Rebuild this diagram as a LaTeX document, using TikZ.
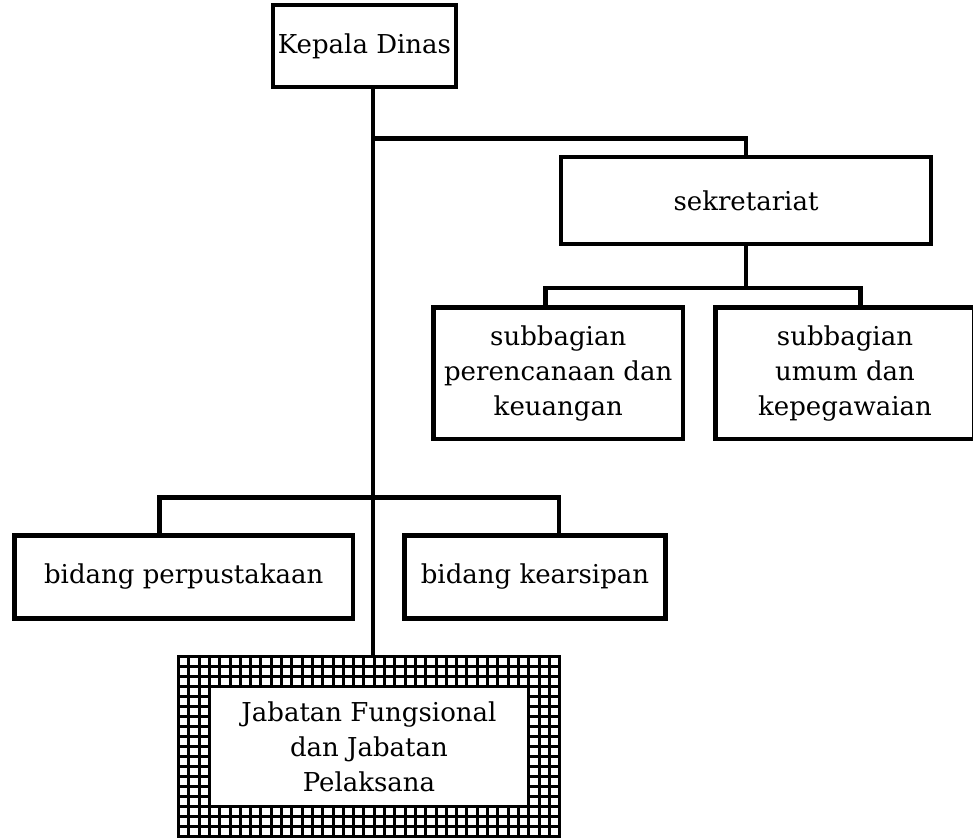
\documentclass[tikz,border=0pt]{standalone}
\usepackage{fontspec}
\setmainfont{DejaVu Serif}
\begin{document}
\begin{tikzpicture}
	[
		x                       = 1pt,
		y                       = -1pt,
		every node/.style       = {font=\fontsize{26}{35}\selectfont, align=center},
		unitbox/.style          = {draw, line width=4.8pt, inner sep=0pt},
		orgline/.style          = {draw, line width=4.8pt}
	]
	\clip (0,0) rectangle (973,837);
	\fill[white] (0,0) rectangle (973,837);
	% grid frame round the functional unit
	\foreach \i in {0,...,37}
		\fill (177+\i*10.3,655) rectangle ++(3,183);
	\foreach \j in {0,...,18}
		\fill (177,655+\j*10) rectangle ++(384.1,3);
	\fill[white] (210.9,688) rectangle (527.2,805);
	\node[unitbox, minimum width=183pt, minimum height=82pt] (kd) at (364.5,46) {Kepala Dinas};
	\node[unitbox, minimum width=370pt, minimum height=87pt] (sek) at (746,200.5) {sekretariat};
	\node[unitbox, minimum width=249.5pt, minimum height=131.5pt] (sub1) at (558.25,373.25)
		{subbagian\\perencanaan dan\\keuangan};
	\node[unitbox, minimum width=259pt, minimum height=131.5pt] (sub2) at (845,373.25)
		{subbagian\\umum dan\\kepegawaian};
	\node[unitbox, minimum width=338.5pt, minimum height=83pt] (bp) at (183.75,577) {bidang perpustakaan};
	\node[unitbox, minimum width=261pt, minimum height=83pt] (bk) at (535,577) {bidang kearsipan};
	\node[inner sep=0pt, minimum width=384pt, minimum height=183pt] (jab) at (369,746.5)
		{Jabatan Fungsional\\dan Jabatan\\Pelaksana};
	\coordinate (trunk) at ([xshift=8.5pt]kd.south);
	\coordinate (j1) at (trunk |- 0,138.5);
	\coordinate (j2) at (sek.south |- 0,288);
	\coordinate (j3) at (trunk |- 0,497.5);
	\draw[orgline] (trunk) -- (trunk |- jab.north);
	\draw[orgline] (j1) -| (sek.north);
	\draw[orgline] (sek.south) -- (j2);
	\draw[orgline] ([xshift=-12.75pt]sub1.north) |- (j2) -| ([xshift=15.5pt]sub2.north);
	\draw[orgline] ([xshift=-24.25pt]bp.north) |- (j3) -| ([xshift=24pt]bk.north);
\end{tikzpicture}
\end{document}
